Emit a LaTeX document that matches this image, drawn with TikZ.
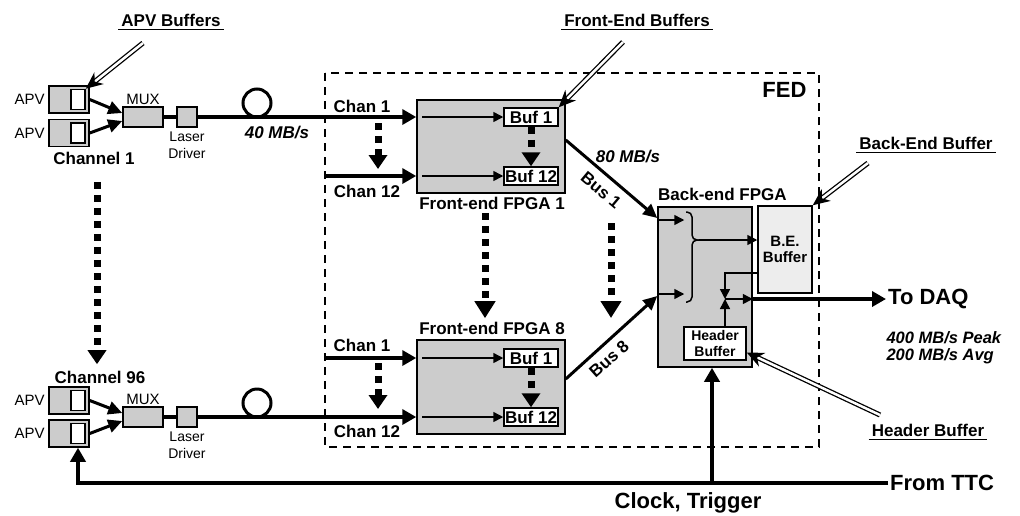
\documentclass[tikz,border=0pt]{standalone}
\usepackage{fontspec}
\setmainfont{Liberation Sans}
\usetikzlibrary{arrows.meta}

\begin{document}
\begin{tikzpicture}[x=1pt, y=-1pt,
    box/.style={draw, line width=1.5pt, fill=black!20, inner sep=0pt},
    wbox/.style={draw, line width=1.5pt, fill=white, inner sep=0pt},
    txt/.style={font=\fontsize{15}{17}\selectfont},
    small/.style={font=\fontsize{14}{17}\selectfont},
    btxt/.style={font=\fontsize{17}{19}\selectfont\bfseries},
    rate/.style={font=\fontsize{17}{17}\selectfont\bfseries\itshape},
    big/.style={font=\fontsize{22}{24}\selectfont\bfseries},
    tag/.style={font=\fontsize{17}{19}\selectfont\bfseries, inner sep=3pt},
    thickarrow/.style={line width=4pt, -{Triangle[length=14pt,width=15pt]}},
    busarrow/.style={line width=3pt, -{Triangle[length=14pt,width=13pt]}},
    thinarrow/.style={line width=1.5pt, -{Triangle[length=10pt,width=10pt]}},
    dotarrow/.style={line width=7pt, dash pattern=on 7pt off 6pt, -{Triangle[length=14pt,width=18pt]}},
    pointer/.style={double, double distance=2.5pt, line width=1.3pt, -{Stealth[length=17pt,width=15pt]}}]
    \useasboundingbox (0,0) rectangle (1020,515);
    \draw[line width=2.5pt, dash pattern=on 8pt off 6pt] (325,73) rectangle (819,447);
    \node[big, anchor=east] (fed) at (810,90) {FED};

    \node[box, minimum width=40pt, minimum height=27pt, label={[txt]left:APV}] (apvA1) at (69,99.5) {};
    \node[box, minimum width=40pt, minimum height=27pt, label={[txt]left:APV}] (apvA2) at (69,133) {};
    \node[box, minimum width=40pt, minimum height=27pt, label={[txt]left:APV}] (apvB1) at (69,400.5) {};
    \node[box, minimum width=40pt, minimum height=27pt, label={[txt]left:APV}] (apvB2) at (69,433.5) {};
    \node[wbox, minimum width=14pt, minimum height=20pt] (bufA1) at (78,99.5) {};
    \node[wbox, minimum width=14pt, minimum height=20pt] (bufA2) at (78,133) {};
    \node[wbox, minimum width=14pt, minimum height=20pt] (bufB1) at (78,400.5) {};
    \node[wbox, minimum width=14pt, minimum height=20pt] (bufB2) at (78,433.5) {};
    \node[btxt] (ch1) at (94,158) {Channel 1};
    \node[btxt] (ch96) at (100,377) {Channel 96};

    \node[box, minimum width=40pt, minimum height=20pt, label={[txt, inner sep=1pt]above:MUX}] (muxA) at (143,117) {};
    \node[box, minimum width=40pt, minimum height=20pt, label={[txt, inner sep=1pt]above:MUX}] (muxB) at (143,417) {};
    \node[box, minimum width=20pt, minimum height=20pt,
        label={[small, align=center, inner sep=4pt]below:Laser\\Driver}] (ldA) at (187,117) {};
    \node[box, minimum width=20pt, minimum height=20pt,
        label={[small, align=center, inner sep=4pt]below:Laser\\Driver}] (ldB) at (187,417) {};
    \draw[busarrow] (apvA1.east) -- ([yshift=4pt]muxA.west);
    \draw[busarrow] (apvA2.east) -- ([yshift=-4pt]muxA.west);
    \draw[busarrow] (apvB1.east) -- ([yshift=4pt]muxB.west);
    \draw[busarrow] (apvB2.east) -- ([yshift=-4pt]muxB.west);
    \draw[line width=4pt] (muxA.east) -- (ldA.west);
    \draw[line width=4pt] (muxB.east) -- (ldB.west);
    \draw[line width=3pt] (257,103) circle (14pt);
    \draw[line width=3pt] (257,403) circle (14pt);
    \node[rate] (rA) at (277,133) {40 MB/s};

    \node[box, minimum width=148pt, minimum height=93pt] (fpga1) at (491,146.5) {};
    \node[box, minimum width=148pt, minimum height=94pt] (fpga8) at (491,387) {};
    \node[btxt] (fl1) at (492,203) {Front-end FPGA 1};
    \node[btxt] (fl8) at (492,328) {Front-end FPGA 8};
    \node[wbox, btxt, minimum width=54pt, minimum height=18pt] (buf1a) at (531,117) {Buf 1};
    \node[wbox, btxt, minimum width=54pt, minimum height=18pt] (buf12a) at (531,176) {Buf 12};
    \node[wbox, btxt, minimum width=54pt, minimum height=18pt] (buf1b) at (531,358) {Buf 1};
    \node[wbox, btxt, minimum width=54pt, minimum height=18pt] (buf12b) at (531,417) {Buf 12};

    \coordinate (c12a) at (325,176);
    \coordinate (c1b) at (325,358);
    \draw[thickarrow] (ldA.east) -- (fpga1.west |- ldA.east);
    \draw[thickarrow] (c12a) -- (fpga1.west |- c12a);
    \draw[thickarrow] (c1b) -- (fpga8.west |- c1b);
    \draw[thickarrow] (ldB.east) -- (fpga8.west |- ldB.east);
    \node[btxt] (cl1a) at (362,106) {Chan 1};
    \node[btxt] (cl12a) at (367,191) {Chan 12};
    \node[btxt] (cl1b) at (362,345) {Chan 1};
    \node[btxt] (cl12b) at (367,431) {Chan 12};
    \draw[thinarrow, shorten <=6pt] (fpga1.west |- buf1a) -- (buf1a.west);
    \draw[thinarrow, shorten <=6pt] (fpga1.west |- buf12a) -- (buf12a.west);
    \draw[thinarrow, shorten <=6pt] (fpga8.west |- buf1b) -- (buf1b.west);
    \draw[thinarrow, shorten <=6pt] (fpga8.west |- buf12b) -- (buf12b.west);

    \node[box, minimum width=94pt, minimum height=160pt] (beFPGA) at (705,287) {};
    \node[btxt, anchor=south west, inner sep=0pt] (bel) at (658,201) {Back-end FPGA};
    \node[box, fill=black!7, font=\fontsize{15}{16}\selectfont\bfseries, align=center,
        minimum width=54pt, minimum height=87pt] (beBuf) at (785,249.5) {B.E.\\Buffer};
    \node[wbox, font=\fontsize{14}{16}\selectfont\bfseries, align=center,
        minimum width=62pt, minimum height=33pt] (hdrBuf) at (715,343.5) {Header\\Buffer};

    \draw[busarrow] ([yshift=6.5pt]fpga1.east) -- ([yshift=69pt]beFPGA.west);
    \draw[busarrow] ([yshift=8pt]fpga8.east) -- ([yshift=-9pt]beFPGA.west);
    \node[btxt, rotate=-40, inner sep=1pt] (bus1) at (601,190) {Bus 1};
    \node[btxt, rotate=42, inner sep=1pt] (bus8) at (609,359) {Bus 8};
    \node[rate] (rB) at (628,157) {80 MB/s};

    \draw[thinarrow] (beFPGA.west |- 0,220) -- ++(27,0);
    \draw[thinarrow] (beFPGA.west |- 0,294) -- ++(27,0);
    \draw[line width=1.5pt, rounded corners=5pt] (686,212) -- (692,212) -- (692,240) -- (699,240);
    \draw[line width=1.5pt, rounded corners=5pt] (686,302) -- (692,302) -- (692,240) -- (699,240);
    \draw[thinarrow] (699,240) -- (beBuf.west |- 0,240);

    \coordinate (jn) at (725,299);
    \draw[thinarrow] (beBuf.west |- 0,273) -| (jn);
    \draw[thinarrow] (hdrBuf.north -| jn) -- (jn);
    \draw[thinarrow] (jn) -- (beFPGA.east |- jn);
    \node[big, anchor=west, inner sep=2pt] (daq) at (886,299) {To DAQ};
    \draw[thickarrow] (beFPGA.east |- jn) -- (daq.west);
    \node[font=\fontsize{16.5}{17}\selectfont\bfseries\itshape, align=left, anchor=north west]
        (rC) at (883,328) {400 MB/s Peak\\200 MB/s Avg};

    \node[big, anchor=west, inner sep=2pt] (ttc) at (888,483) {From TTC};
    \node[big] (clk) at (688,503) {Clock, Trigger};
    \coordinate (clkup) at (712,483);
    \coordinate (ttcleft) at (78,483);
    \draw[thickarrow] (ttc.west) -- (ttcleft) -- (apvB2.south -| ttcleft);
    \draw[thickarrow] (clkup) -- (beFPGA.south -| clkup);

    \draw[dotarrow, shorten <=14pt, shorten >=3pt] (ch1.south -| 97,0) -- (ch96.north -| 97,0);
    \draw[dotarrow] (378,123) -- (378,169);
    \draw[dotarrow] (378,363) -- (378,409);
    \draw[dotarrow] (buf1a.south) -- (buf12a.north);
    \draw[dotarrow] (buf1b.south) -- (buf12b.north);
    \draw[dotarrow, -{Triangle[length=17pt,width=20pt]}] (fl1.south -| 485,0) -- (fl8.north -| 485,0);
    \draw[dotarrow, -{Triangle[length=17pt,width=20pt]}] (611,223) -- (611,318);

    \node[tag] (lblA) at (171,20) {APV Buffers};
    \node[tag] (lblF) at (637,20) {Front-End Buffers};
    \node[tag] (lblB) at (926,143) {Back-End Buffer};
    \node[tag] (lblH) at (928,430) {Header Buffer};
    \draw[line width=1.5pt] (lblA.south west) -- (lblA.south east);
    \draw[line width=1.5pt] (lblF.south west) -- (lblF.south east);
    \draw[line width=1.5pt] (lblB.south west) -- (lblB.south east);
    \draw[line width=1.5pt] (lblH.south west) -- (lblH.south east);
    \coordinate (pA) at (143,43);
    \coordinate (pF) at (623,42);
    \coordinate (pB) at (868,163);
    \coordinate (pH) at (880,415);
    \draw[pointer] (pA) -- (bufA1.north east);
    \draw[pointer] (pF) -- (buf1a.north east);
    \draw[pointer] (pB) -- (beBuf.north east);
    \draw[pointer] (pH) -- ([yshift=-9pt]hdrBuf.east);
\end{tikzpicture}
\end{document}
